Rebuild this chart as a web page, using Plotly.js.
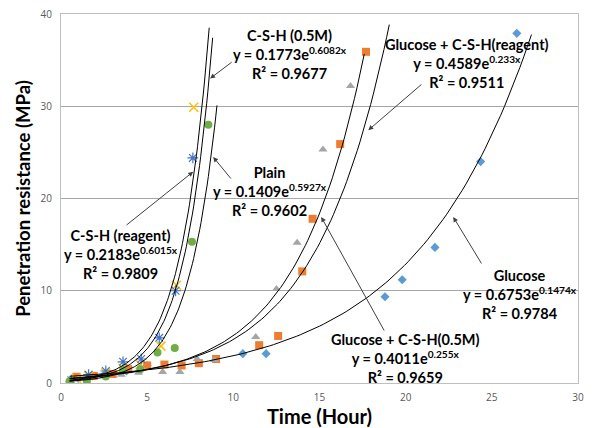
<!DOCTYPE html>
<html>
<head>
<meta charset="utf-8">
<script src="https://cdn.plot.ly/plotly-3.0.1.min.js"></script>
<style>html,body{margin:0;padding:0;background:#fff;}#chart{width:598px;height:428px;}</style>
</head>
<body>
<div id="chart"></div>
<script>
// ---- Data ----
// Glucose (blue diamonds)
const glucoseX = [1.0, 2.5, 3.8, 5.0, 10.55, 11.9, 18.8, 19.8, 21.7, 24.35, 26.45];
const glucoseY = [0.5, 0.9, 1.3, 1.9, 3.18, 3.18, 9.35, 11.2, 14.7, 24.0, 37.9];
// Glucose + C-S-H(0.5M) (orange squares)
const gCsh05X = [0.9, 1.9, 3.0, 3.9, 5.0, 6.0, 7.0, 8.0, 9.0, 11.5, 12.6, 14.0, 14.6, 16.2, 17.7];
const gCsh05Y = [0.68, 0.76, 0.98, 1.5, 1.9, 2.0, 1.9, 2.15, 2.6, 4.1, 5.1, 12.1, 17.8, 25.9, 35.9];
// Glucose + C-S-H(reagent) (grey triangles)
const gCshRX = [0.5, 1.5, 2.5, 3.5, 4.5, 5.9, 6.9, 7.9, 8.9, 11.3, 12.5, 13.7, 15.2, 16.8];
const gCshRY = [0.3, 0.5, 0.7, 0.9, 1.1, 1.2, 1.2, 2.6, 2.5, 5.0, 10.2, 15.2, 25.3, 32.2];
// C-S-H (0.5M) (yellow crosses)
const csh05X = [0.9, 1.6, 2.6, 3.6, 4.6, 5.8, 6.7, 7.7];
const csh05Y = [0.5, 0.8, 1.1, 1.6, 2.0, 4.0, 10.6, 29.9];
// C-S-H (reagent) (blue asterisks)
const cshRX = [0.6, 1.6, 2.6, 3.6, 4.65, 5.7, 6.65, 7.65];
const cshRY = [0.3, 0.9, 1.3, 2.3, 2.6, 4.9, 10.0, 24.4];
// Plain (green circles)
const plainX = [0.5, 1.5, 2.6, 3.6, 4.6, 5.6, 6.6, 7.6, 8.55];
const plainY = [0.2, 0.2, 0.7, 1.4, 1.5, 3.3, 3.8, 15.3, 28.0];

// Exponential trendline coefficients as printed on the chart: y = a*e^(b*x)
const seriesNames = ["Glucose", "Glucose + C-S-H(0.5M)", "Glucose + C-S-H(reagent)", "C-S-H (0.5M)", "C-S-H (reagent)", "Plain"];
const trendA = [0.6753, 0.4011, 0.4589, 0.1773, 0.2183, 0.1409];
const trendB = [0.1474, 0.255, 0.233, 0.6082, 0.6015, 0.5927];
const trendR2 = ["0.9784", "0.9659", "0.9511", "0.9677", "0.9809", "0.9602"];
const trendFrom = [0.5, 0.5, 0.5, 0.5, 0.5, 0.5];
const trendTo = [27.3, 17.6, 19.05, 8.8, 8.6, 9.05];

const xTicks = [0, 5, 10, 15, 20, 25, 30];
const yTicks = [0, 10, 20, 30, 40];

const markerTraces = [
  {x: glucoseX, y: glucoseY, marker: {symbol: 'diamond', size: 7, color: '#5B9BD5'}},
  {x: gCsh05X, y: gCsh05Y, marker: {symbol: 'square', size: 8, color: '#ED7D31'}},
  {x: gCshRX, y: gCshRY, marker: {symbol: 'triangle-up', size: 8, color: '#A5A5A5'}},
  {x: csh05X, y: csh05Y, marker: {symbol: 'x-thin-open', size: 9, color: '#FFC000', line: {color: '#FFC000', width: 1.5}}},
  {x: cshRX, y: cshRY, marker: {symbol: 'asterisk-open', size: 9, color: '#4472C4', line: {color: '#4472C4', width: 1.2}}},
  {x: plainX, y: plainY, marker: {symbol: 'circle', size: 8, color: '#70AD47'}}
].map((t, i) => Object.assign({type: 'scatter', mode: 'markers', name: seriesNames[i], showlegend: false, hoverinfo: 'x+y'}, t));

const trendTraces = seriesNames.map((n, i) => {
  const xs = [], ys = [];
  const steps = 120;
  for (let k = 0; k <= steps; k++) {
    const xv = trendFrom[i] + (trendTo[i] - trendFrom[i]) * k / steps;
    xs.push(xv);
    ys.push(trendA[i] * Math.exp(trendB[i] * xv));
  }
  return {type: 'scatter', mode: 'lines', x: xs, y: ys, name: n + ' trend', showlegend: false,
          line: {color: '#000000', width: 1}, hoverinfo: 'skip'};
});

// label positions (data units) and arrow tail/head positions
const labelX = [26.66, 19.98, 23.58, 13.3, 3.5, 12.14];
const labelY = [9.54, 2.71, 34.6, 35.6, 13.9, 20.8];
const arrowTailX = [24.45, 18.8, 21.0, 9.99, 3.72, 9.93];
const arrowTailY = [12.8, 5.53, 32.5, 34.9, 17.0, 22.0];
const arrowHeadX = [22.76, 15.1, 17.83, 8.65, 7.67, 8.83];
const arrowHeadY = [18.0, 18.0, 27.4, 33.0, 22.9, 24.5];

const annFont = {family: 'Lato, "Open Sans", sans-serif', size: 14.5, color: '#000000'};
const annotations = [];
seriesNames.forEach((n, i) => {
  annotations.push({
    x: labelX[i], y: labelY[i], xref: 'x', yref: 'y', showarrow: false,
    text: '<b>' + n + '</b><br><b>y = ' + trendA[i] + 'e<sup>' + String(trendB[i]) + 'x</sup></b><br><b>R² = ' + trendR2[i] + '</b>',
    font: annFont, align: 'center', xanchor: 'center', yanchor: 'middle'
  });
  annotations.push({
    x: arrowHeadX[i], y: arrowHeadY[i], xref: 'x', yref: 'y',
    ax: arrowTailX[i], ay: arrowTailY[i], axref: 'x', ayref: 'y',
    text: '', showarrow: true, arrowhead: 2, arrowsize: 1, arrowwidth: 1, arrowcolor: '#404040'
  });
});

const tickFont = {family: '"Open Sans", sans-serif', size: 10, color: '#595959'};
const layout = {
  width: 598, height: 428,
  margin: {l: 61, r: 20, t: 14, b: 45},
  paper_bgcolor: '#ffffff', plot_bgcolor: '#ffffff',
  showlegend: false,
  xaxis: {
    range: [0, 30], tickvals: xTicks, ticktext: xTicks.map(String),
    showgrid: false, zeroline: false, showline: true, mirror: true,
    linecolor: '#BFBFBF', linewidth: 1,
    ticks: 'outside', ticklen: 5, tickcolor: 'rgba(0,0,0,0)',
    tickfont: tickFont,
    title: {text: '<b>Time (Hour)</b>', font: {family: 'Lato, sans-serif', size: 20, color: '#000000'}, standoff: 2}
  },
  yaxis: {
    range: [0, 40], tickvals: yTicks, ticktext: yTicks.map(String),
    showgrid: true, gridcolor: '#A6A6A6', gridwidth: 1, zeroline: false,
    showline: true, mirror: true, linecolor: '#BFBFBF', linewidth: 1,
    ticks: 'outside', ticklen: 6, tickcolor: 'rgba(0,0,0,0)',
    tickfont: tickFont,
    title: {text: '<b>Penetration resistance (MPa)</b>', font: {family: 'Lato, sans-serif', size: 18.5, color: '#000000'}, standoff: 5}
  },
  annotations: annotations
};

Plotly.newPlot('chart', markerTraces.concat(trendTraces), layout, {staticPlot: true, displayModeBar: false});
</script>
</body>
</html>
